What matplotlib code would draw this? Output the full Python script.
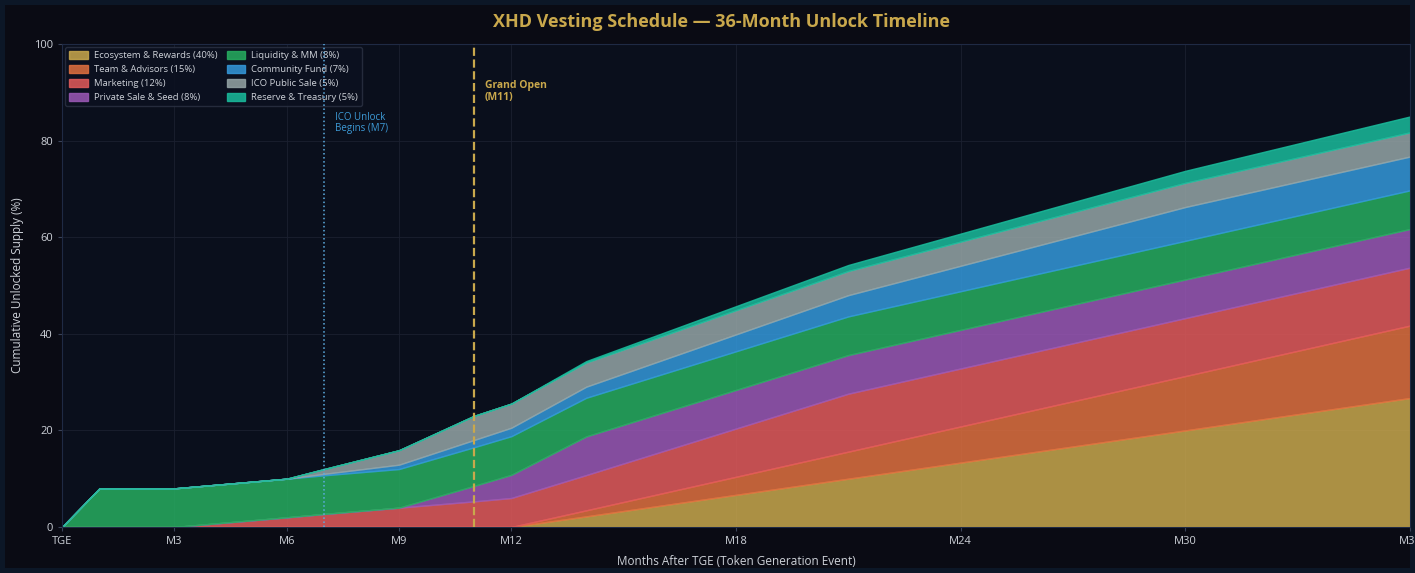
import numpy as np
import matplotlib
matplotlib.use("Agg")
import matplotlib.pyplot as plt

plt.rcParams['font.family'] = ['Open Sans', 'Noto Sans', 'DejaVu Sans']

# months where the schedule changes slope
months = [0, 1, 3, 6, 7, 9, 11, 12, 14, 21, 30, 36]

# unlocked supply per allocation (% of total)
ecosystem = [0, 0, 0, 0, 0, 0, 0, 0, 2.2, 10.0, 20.0, 26.7]
team      = [0, 0, 0, 0, 0, 0, 0, 0, 1.25, 5.6, 11.25, 15.0]
marketing = [0, 0, 0, 2.0, 2.7, 4.0, 5.3, 6.0, 7.3, 12.0, 12.0, 12.0]
private   = [0, 0, 0, 0, 0, 0, 3.2, 4.8, 8.0, 8.0, 8.0, 8.0]
liquidity = [0, 8, 8, 8, 8, 8, 8, 8, 8, 8, 8, 8]
community = [0, 0, 0, 0, 0.3, 0.9, 1.5, 1.75, 2.3, 4.4, 7.0, 7.0]
ico       = [0, 0, 0, 0, 1.0, 3.0, 5.0, 5.0, 5.0, 5.0, 5.0, 5.0]
reserve   = [0, 0, 0, 0, 0, 0, 0, 0, 0.3, 1.25, 2.5, 3.3]

labels = ['Ecosystem & Rewards (40%)', 'Team & Advisors (15%)', 'Marketing (12%)',
          'Private Sale & Seed (8%)', 'Liquidity & MM (8%)', 'Community Fund (7%)',
          'ICO Public Sale (5%)', 'Reserve & Treasury (5%)']
colors = ['#c9a84c', '#e0703f', '#e35b5b', '#9b59b6',
          '#27ae60', '#3498db', '#95a5a6', '#1abc9c']

tick_pos = [0, 3, 6, 9, 12, 18, 24, 30, 36]
tick_lab = ['TGE', 'M3', 'M6', 'M9', 'M12', 'M18', 'M24', 'M30', 'M36']

GOLD = '#c9a84c'
TXT = '#cdd1d8'

fig = plt.figure(figsize=(14.15, 5.73), dpi=100)
fig.patch.set_facecolor('#0a0b14')
fig.patch.set_edgecolor('#0c1727')
fig.patch.set_linewidth(7)
ax = fig.add_axes([0.0438, 0.0803, 0.9527, 0.8429])
ax.set_facecolor('#0a0f1c')

series = [ecosystem, team, marketing, private, liquidity, community, ico, reserve]
polys = ax.stackplot(months, *series, labels=labels, colors=colors, alpha=0.85,
                     linewidth=1.0, zorder=2)
for p, c in zip(polys, colors):
    p.set_edgecolor(c)

# milestones
ax.axvline(7, color='#5dade2', linestyle=':', linewidth=1.1, zorder=3)
ax.text(7.3, 86, 'ICO Unlock\nBegins (M7)', color='#3d9ad6', fontsize=7,
        va='top', ha='left', linespacing=1.1)
ax.axvline(11, color=GOLD, linestyle='--', linewidth=1.6, zorder=3)
ax.text(11.3, 92.5, 'Grand Open\n(M11)', color=GOLD, fontsize=7.5,
        fontweight='bold', va='top', ha='left', linespacing=1.1)

ax.set_xlim(0, 36)
ax.set_ylim(0, 100)
ax.set_xticks(tick_pos)
ax.set_xticklabels(tick_lab)
ax.set_yticks(range(0, 101, 20))
ax.tick_params(colors=TXT, labelsize=8, length=3, color='#3a4258')
ax.grid(True, color='#1b2030', linewidth=0.6, zorder=0)
ax.set_axisbelow(True)
for s in ax.spines.values():
    s.set_color('#1f2a44')

ax.set_xlabel('Months After TGE (Token Generation Event)', color=TXT, fontsize=8.5, labelpad=6)
ax.set_ylabel('Cumulative Unlocked Supply (%)', color=TXT, fontsize=8.5, labelpad=7)
fig.suptitle('XHD Vesting Schedule \u2014 36-Month Unlock Timeline', color=GOLD,
             fontsize=13, fontweight='bold', x=0.51, y=0.978)

leg = ax.legend(loc='upper left', ncol=2, fontsize=6.8, frameon=True,
                facecolor='#0c1120', edgecolor='#2a3142', framealpha=0.85,
                labelcolor=TXT, handlelength=2.0, handleheight=0.9,
                columnspacing=1.0, borderpad=0.45, labelspacing=0.5,
                handletextpad=0.6, borderaxespad=0.3)
leg.set_zorder(1)

fig.savefig('out.png', dpi=100, facecolor=fig.get_facecolor(), edgecolor=fig.get_edgecolor())
